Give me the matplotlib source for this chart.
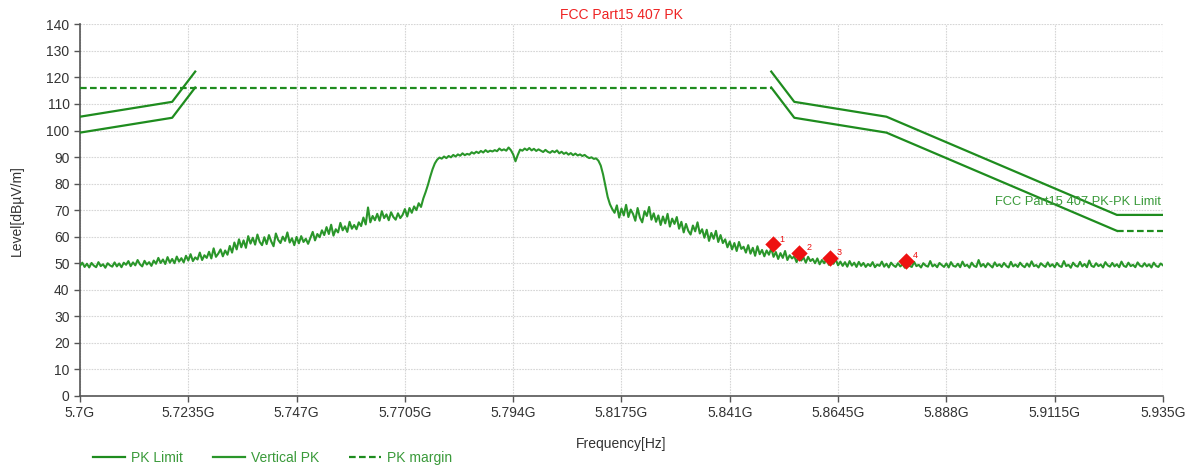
import numpy as np
import matplotlib
matplotlib.use("Agg")
import matplotlib.pyplot as plt
from matplotlib.lines import Line2D

plt.rcParams['font.family'] = ['Liberation Sans Narrow', 'Liberation Sans', 'DejaVu Sans']

# Frequency axis (GHz) and its labels
tick_freqs = [5.7, 5.7235, 5.747, 5.7705, 5.794, 5.8175, 5.841, 5.8645, 5.888, 5.9115, 5.935]
tick_labels = ["5.7G", "5.7235G", "5.747G", "5.7705G", "5.794G", "5.8175G",
               "5.841G", "5.8645G", "5.888G", "5.9115G", "5.935G"]
level_ticks = list(range(0, 141, 10))

# FCC Part 15.407 peak limit (dBuV/m), band-edge mask on both sides
limit_lo_f = [5.700, 5.720, 5.725]
limit_lo = [105.2, 110.8, 122.2]
limit_hi_f = [5.850, 5.855, 5.875, 5.925, 5.935]
limit_hi = [122.2, 110.8, 105.2, 68.2, 68.2]

# Limit minus 6 dB
offset_lo = [99.2, 104.8, 116.2]
offset_hi = [116.2, 104.8, 99.2, 62.2]
offset_hi_f = [5.850, 5.855, 5.875, 5.925]

# PK margin (dashed)
margin_a_f = [5.700, 5.850]
margin_a = [116.2, 116.2]
margin_b_f = [5.925, 5.935]
margin_b = [62.2, 62.2]

# Vertical PK sweep, 0.5 MHz steps from 5.700 to 5.935 GHz
vertical_pk = [
    49.0, 50.2, 48.6, 49.8, 48.4, 50.1, 49.1, 48.5, 50.4, 48.9, 49.6, 48.3, 50.0, 49.2, 48.7, 50.3, 48.8, 49.9, 48.5, 50.2,
    49.4, 50.8, 48.9, 50.3, 49.2, 51.2, 49.6, 48.8, 50.9, 49.5, 50.4, 49.0, 51.0, 49.8, 52.0, 50.1, 51.4, 49.7, 52.3, 50.2,
    51.6, 50.0, 52.5, 50.6, 51.9, 50.3, 52.8, 51.0, 53.4, 50.8, 52.2, 51.4, 54.0, 51.2, 53.0, 52.0, 54.3, 51.8, 55.6, 52.4,
    53.6, 55.2, 52.6, 54.8, 53.2, 56.5, 54.0, 57.8, 55.2, 59.0, 56.0, 58.6, 55.8, 60.2, 57.4, 59.6, 57.0, 60.8, 58.0, 56.8,
    59.8, 57.2, 60.6, 58.2, 56.4, 61.2, 58.8, 57.6, 60.0, 58.4, 61.6, 57.8, 59.4, 56.8, 59.9, 57.5, 60.2, 58.0, 59.2, 57.3,
    59.6, 61.8, 58.6, 61.0, 59.8, 62.4, 60.6, 63.6, 61.0, 64.5, 60.4, 62.8, 61.6, 65.2, 62.4, 63.9, 61.8, 65.6, 63.0, 64.4,
    62.8, 65.4, 64.0, 67.2, 64.6, 71.0, 65.4, 67.8, 66.2, 68.6, 66.0, 69.6, 67.0, 68.4, 66.2, 69.2, 67.4, 66.4, 68.8, 67.0,
    68.2, 70.4, 67.6, 70.8, 69.0, 71.4, 70.0, 72.6, 71.2, 74.4, 76.8, 79.5, 82.6, 85.4, 87.6, 89.0, 89.8, 89.4, 90.2, 89.6,
    90.4, 89.9, 90.8, 90.2, 91.0, 90.5, 91.4, 90.7, 91.2, 90.9, 91.8, 91.3, 92.0, 91.5, 92.3, 91.7, 92.6, 91.9, 92.4, 92.1,
    92.6, 92.2, 93.2, 92.5, 92.9, 92.4, 93.6, 92.6, 91.0, 88.4, 90.8, 92.8, 92.4, 93.2, 92.6, 93.4, 92.5, 93.1, 92.3, 92.9,
    92.4, 91.9, 92.7, 92.0, 91.6, 92.3, 91.8, 92.5, 91.4, 92.0, 91.2, 91.7, 90.9, 91.5, 90.7, 91.3, 90.6, 91.0, 90.4, 90.8,
    90.1, 89.6, 89.9, 89.3, 89.5, 88.6, 86.8, 83.5, 79.2, 75.0, 72.2, 70.4, 69.0, 71.8, 67.2, 70.6, 68.0, 72.0, 67.4, 70.2,
    68.6, 66.0, 70.8, 67.2, 65.4, 69.6, 67.8, 71.2, 66.4, 68.8, 65.6, 68.0, 64.4, 67.6, 65.0, 68.6, 63.8, 66.8, 64.8, 67.4,
    63.0, 65.6, 61.6, 64.8, 62.2, 60.8, 64.2, 62.0, 65.4, 61.2, 62.8, 59.6, 62.6, 58.4, 61.4, 59.2, 62.2, 58.0, 60.6, 57.6,
    59.0, 56.0, 58.2, 55.2, 57.6, 54.6, 58.0, 55.4, 56.2, 54.0, 56.8, 53.6, 55.8, 52.8, 56.4, 53.4, 55.0, 52.6, 54.8, 53.2,
    55.6, 52.4, 54.2, 51.6, 53.8, 52.0, 54.6, 51.2, 53.0, 51.8, 52.6, 50.4, 52.8, 51.0, 52.2, 50.2, 52.4, 50.8, 51.6, 50.0,
    51.8, 49.6, 51.2, 50.0, 51.6, 49.4, 50.8, 49.8, 51.4, 49.2, 50.6, 49.0, 50.4, 48.7, 50.8, 49.1, 50.2, 48.6, 50.5, 49.0,
    50.1, 48.6, 49.7, 48.9, 50.4, 48.5, 49.5, 49.0, 50.6, 48.7, 49.8, 48.4, 50.2, 49.2, 48.6, 50.0, 48.8, 49.6, 48.3, 50.3,
    49.0, 48.6, 50.5, 48.9, 49.4, 48.4, 50.0, 49.1, 48.7, 50.8, 48.8, 49.5, 48.5, 50.1, 49.3, 48.6, 49.9, 48.4, 50.4, 49.0,
    48.7, 49.8, 48.5, 50.6, 48.9, 49.4, 48.3, 50.2, 49.0, 48.6, 51.2, 48.8, 49.7, 48.5, 50.0, 49.2, 48.4, 50.3, 48.9, 49.6,
    48.6, 50.1, 49.0, 48.4, 50.5, 48.8, 49.5, 48.6, 50.2, 49.1, 48.5, 49.9, 48.7, 50.7, 48.9, 49.3, 48.4, 50.0, 49.2, 48.6,
    50.3, 48.8, 49.6, 48.5, 50.1, 49.0, 48.6, 50.8, 48.9, 49.4, 48.3, 50.2, 49.1, 48.7, 50.5, 48.8, 49.7, 48.5, 51.0, 49.0,
    48.6, 50.0, 48.9, 49.5, 48.4, 50.4, 49.2, 48.7, 50.1, 48.8, 49.6, 48.5, 50.6, 49.0, 48.6, 50.2, 48.9, 49.4, 48.5, 50.3,
    49.1, 48.7, 50.0, 48.8, 49.6, 48.4, 50.2, 49.0, 48.6, 49.9, 49.2,
]
sweep_f = np.linspace(5.700, 5.935, len(vertical_pk))

# Marker peaks
marker_ids = ["1", "2", "3", "4"]
marker_f = [5.8503, 5.8561, 5.8627, 5.8792]
marker_level = [57.1, 54.0, 51.9, 51.0]

line_green = "#1e8c1e"
trace_green = "#2a962a"
text_green = "#3a9a3a"

fig = plt.figure(figsize=(11.94, 4.68), dpi=100)
ax = fig.add_axes([0.067, 0.154, 0.907, 0.794])

ax.plot(sweep_f, vertical_pk, color=trace_green, lw=1.5, zorder=3)

ax.plot(limit_lo_f, limit_lo, color=line_green, lw=1.6, zorder=4)
ax.plot(limit_hi_f, limit_hi, color=line_green, lw=1.6, zorder=4)
ax.plot(limit_lo_f, offset_lo, color=line_green, lw=1.6, zorder=4)
ax.plot(offset_hi_f, offset_hi, color=line_green, lw=1.6, zorder=4)
ax.plot(margin_a_f, margin_a, color=line_green, lw=1.6, ls=(0, (3, 1.5)), zorder=4)
ax.plot(margin_b_f, margin_b, color=line_green, lw=1.6, ls=(0, (3, 1.5)), zorder=4)

ax.scatter(marker_f, marker_level, marker="D", s=70, color="#ee1111", zorder=5, linewidths=0)
for mid, mf, ml in zip(marker_ids, marker_f, marker_level):
    ax.annotate(mid, (mf, ml), xytext=(5, 2), textcoords="offset points",
                color="#ee1111", fontsize=6.5)

ax.text(5.9345, 73.0, "FCC Part15 407 PK-PK Limit", color=text_green, fontsize=9.3,
        ha="right", va="center", zorder=6)

ax.set_xlim(5.700, 5.935)
ax.set_ylim(0, 140)
ax.set_xticks(tick_freqs)
ax.set_xticklabels(tick_labels)
ax.set_yticks(level_ticks)
ax.tick_params(axis="both", labelsize=10, color="#555555", length=4, width=1, labelcolor="#333333")
ax.grid(True, color="#d6d6d6", lw=0.8, ls=(0, (1.5, 1)))
ax.set_axisbelow(True)
for side in ("top", "right"):
    ax.spines[side].set_visible(False)
for side in ("left", "bottom"):
    ax.spines[side].set_color("#555555")
    ax.spines[side].set_linewidth(1.2)

ax.set_title("FCC Part15 407 PK", color="#ee2222", fontsize=10, pad=4)
ax.set_xlabel("Frequency[Hz]", fontsize=10, color="#333333", labelpad=12)
ax.set_ylabel("Level[dB\u00b5V/m]", fontsize=10, color="#333333", labelpad=16)

legend_handles = [
    Line2D([], [], color=line_green, lw=1.6),
    Line2D([], [], color=trace_green, lw=1.6),
    Line2D([], [], color=line_green, lw=1.6, ls=(0, (3, 1.5))),
]
leg = fig.legend(legend_handles, ["PK Limit", "Vertical PK", "PK margin"],
                 loc="lower left", bbox_to_anchor=(0.0675, -0.02), ncol=3, frameon=False,
                 fontsize=10, handlelength=2.3, columnspacing=2.2, handletextpad=0.4)
for t in leg.get_texts():
    t.set_color(text_green)

fig.savefig("out.png", dpi=100)
